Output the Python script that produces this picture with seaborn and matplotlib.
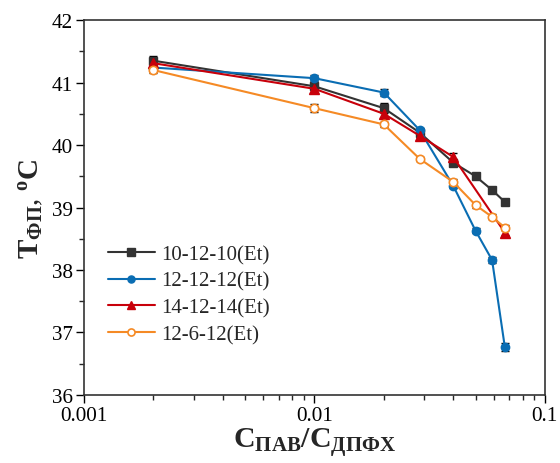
import numpy as np
import pandas as pd
import matplotlib
matplotlib.use("Agg")
import matplotlib.pyplot as plt
import seaborn as sns

x_full = [0.002, 0.01, 0.02, 0.0286, 0.04, 0.05, 0.059, 0.067]
x_red = [0.002, 0.01, 0.02, 0.0286, 0.04, 0.067]

y_10 = [41.35, 40.94, 40.59, 40.20, 39.72, 39.50, 39.28, 39.09]
y_12 = [41.24, 41.07, 40.84, 40.24, 39.35, 38.63, 38.16, 36.77]
y_14 = [41.31, 40.90, 40.50, 40.15, 39.81, 38.60]
y_126 = [41.20, 40.59, 40.33, 39.78, 39.41, 39.04, 38.85, 38.68]

err_10 = [0.07, 0.05, 0.08, 0.04, 0.05, 0.03, 0.03, 0.03]
err_12 = [0.05, 0.05, 0.06, 0.04, 0.04, 0.04, 0.05, 0.06]
err_14 = [0.05, 0.05, 0.06, 0.04, 0.06, 0.04]
err_126 = [0.04, 0.06, 0.04, 0.03, 0.05, 0.04, 0.04, 0.04]

labels = ["10-12-10(Et)", "12-12-12(Et)", "14-12-14(Et)", "12-6-12(Et)"]
colors = ["#333333", "#0a6db3", "#c8000a", "#f58a25"]

sns.set_theme(style="white")
plt.rcParams['font.family'] = ['Liberation Serif', 'DejaVu Serif']
plt.rcParams['mathtext.fontset'] = 'custom'
plt.rcParams['mathtext.rm'] = 'Liberation Serif'
plt.rcParams['mathtext.bf'] = 'Liberation Serif:bold'
plt.rcParams['mathtext.it'] = 'Liberation Serif:italic'

fig = plt.figure(figsize=(5.6, 4.64), dpi=100)
ax = fig.add_axes([0.15, 0.1466, 0.823, 0.808])

series = [
    (x_full, y_10, err_10, "s", True),
    (x_full, y_12, err_12, "o", True),
    (x_red, y_14, err_14, "^", True),
    (x_full, y_126, err_126, "o", False),
]

for (xs, ys, es, mk, filled), lab, col in zip(series, labels, colors):
    ax.errorbar(xs, ys, yerr=es, fmt="none", ecolor="black", elinewidth=1, capsize=3, capthick=1, zorder=2)
    df = pd.DataFrame({"x": xs, "y": ys})
    sns.lineplot(data=df, x="x", y="y", ax=ax, color=col, lw=1.5,
                 marker=mk, markersize=6 if mk != "^" else 7,
                 markerfacecolor=col if filled else "white",
                 markeredgecolor=col, markeredgewidth=1 if filled else 1.2,
                 label=lab, zorder=3)

ax.set_xscale("log")
ax.set_xlim(0.001, 0.1)
ax.set_ylim(36, 42)
ax.set_yticks([36, 37, 38, 39, 40, 41, 42])
ax.set_yticks(np.arange(36.5, 42, 1.0), minor=True)
ax.set_xticks([0.001, 0.01, 0.1])
ax.set_xticklabels(["0.001", "0.01", "0.1"])

for s in ax.spines.values():
    s.set_color("#333333")
    s.set_linewidth(1.2)

ax.tick_params(axis="both", which="major", direction="out", length=6, width=1, colors="black",
               labelsize=15.2, bottom=True, left=True, top=False, right=False, pad=2)
ax.tick_params(axis="both", which="minor", direction="out", length=3.5, width=1,
               bottom=True, left=True, top=False, right=False)

ax.set_xlabel(r"$\mathbf{C_{ПАВ}/C_{ДПФХ}}$", fontsize=21.5, labelpad=0)
ax.set_ylabel(r"$\mathbf{T_{ФП}}$, $\mathbf{^{o}C}$", fontsize=21, labelpad=4)

leg = ax.legend(loc="upper left", bbox_to_anchor=(0.02, 0.44), frameon=False, fontsize=15,
                handlelength=2.25, labelspacing=0.34, handletextpad=0.3, borderaxespad=0.3,
                markerscale=0.85)

fig.savefig("out.png", dpi=100)
